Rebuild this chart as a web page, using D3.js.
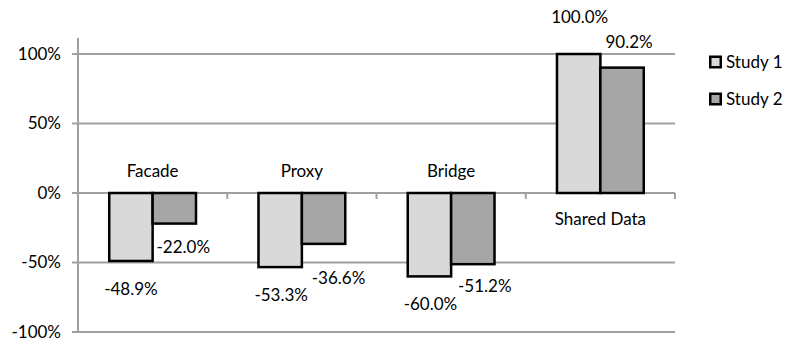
<!DOCTYPE html>
<html>
<head>
<meta charset="utf-8">
<script src="https://cdn.jsdelivr.net/npm/d3@7"></script>
<style>
  html, body { margin: 0; padding: 0; background: #fff; }
  svg { display: block; font-family: Lato, "Open Sans", sans-serif; }
</style>
</head>
<body>
<svg id="chart" width="788" height="344"></svg>
<script>
// Chart data
const categories = ["Facade", "Proxy", "Bridge", "Shared Data"];
const seriesNames = ["Study 1", "Study 2"];
const study1 = [-0.489, -0.533, -0.600, 1.000];
const study2 = [-0.220, -0.366, -0.512, 0.902];
const yTicks = [-1, -0.5, 0, 0.5, 1];

// Styling
const fills = ["#d9d9d9", "#a6a6a6"];
const gridColor = "#a0a0a0";
const fontSize = 17;

// Hand-placed nudges for the value labels [dx, dy], per series and category
const labelNudge = [
  [[0, 0], [1, 0], [1, 0], [1, -9]],
  [[9, -5], [15, 6], [12, -6], [7, 2]]
];

const svg = d3.select("#chart");
const plot = { left: 78, right: 675, top: 54, bottom: 332 };

const x0 = d3.scaleBand().domain(categories).range([plot.left, plot.right]).padding(0);
const x1 = d3.scaleBand().domain(seriesNames).range([0, x0.bandwidth()])
  .paddingInner(0).paddingOuter(0.72);
const y = d3.scaleLinear().domain([-1, 1]).range([plot.bottom, plot.top]);

const values = [study1, study2];
// Percent formats with a plain hyphen for negatives
const hyphen = f => v => f(v).replace("\u2212", "-");
const fmt = hyphen(d3.format(".1%"));
const tickFmt = hyphen(d3.format(".0%"));

// Horizontal gridlines with short ticks left of the axis
svg.append("g").selectAll("line").data(yTicks).join("line")
  .attr("x1", plot.left - 6).attr("x2", plot.right)
  .attr("y1", d => y(d)).attr("y2", d => y(d))
  .attr("stroke", gridColor).attr("stroke-width", 2);

// Value axis line
svg.append("line")
  .attr("x1", plot.left).attr("x2", plot.left)
  .attr("y1", 38).attr("y2", plot.bottom)
  .attr("stroke", gridColor).attr("stroke-width", 2);

// Category tick marks on the zero line
svg.append("g").selectAll("line").data(categories.slice(1).concat([null])).join("line")
  .attr("x1", d => d ? x0(d) : plot.right)
  .attr("x2", d => d ? x0(d) : plot.right)
  .attr("y1", y(0)).attr("y2", y(0) + 6)
  .attr("stroke", gridColor).attr("stroke-width", 2);

// Value axis tick labels
svg.append("g").selectAll("text").data(yTicks).join("text")
  .attr("x", 61).attr("y", d => y(d)).attr("dy", "0.35em")
  .attr("text-anchor", "end").attr("font-size", fontSize).attr("fill", "#000")
  .text(d => tickFmt(d));

// Bars
seriesNames.forEach((s, si) => {
  svg.append("g").selectAll("rect").data(categories).join("rect")
    .attr("x", d => x0(d) + x1(s))
    .attr("width", x1.bandwidth())
    .attr("y", (d, i) => y(Math.max(0, values[si][i])))
    .attr("height", (d, i) => Math.abs(y(values[si][i]) - y(0)))
    .attr("fill", fills[si]).attr("stroke", "#000").attr("stroke-width", 2.5);
});

// Category labels sit on the side of the zero line away from the bars
svg.append("g").selectAll("text").data(categories).join("text")
  .attr("x", d => x0(d) + x0.bandwidth() / 2)
  .attr("y", (d, i) => study1[i] < 0 ? y(0) - 21.5 : y(0) + 26)
  .attr("dy", "0.35em").attr("text-anchor", "middle")
  .attr("font-size", fontSize).attr("fill", "#000")
  .text(d => d);

// Value labels
seriesNames.forEach((s, si) => {
  svg.append("g").selectAll("text").data(categories).join("text")
    .attr("x", (d, i) => x0(d) + x1(s) + x1.bandwidth() / 2 + labelNudge[si][i][0])
    .attr("y", (d, i) => y(values[si][i]) + (values[si][i] < 0 ? 28 : -28) + labelNudge[si][i][1])
    .attr("dy", "0.35em").attr("text-anchor", "middle")
    .attr("font-size", fontSize).attr("fill", "#000")
    .text((d, i) => fmt(values[si][i]));
});

// Legend
const legend = svg.append("g").selectAll("g").data(seriesNames).join("g")
  .attr("transform", (d, i) => `translate(709, ${62 + i * 37})`);
legend.append("rect")
  .attr("x", 1.25).attr("y", -5.25).attr("width", 10.5).attr("height", 10.5)
  .attr("fill", (d, i) => fills[i]).attr("stroke", "#000").attr("stroke-width", 2.5);
legend.append("text")
  .attr("x", 17).attr("y", 0).attr("dy", "0.35em")
  .attr("font-size", fontSize).attr("fill", "#000")
  .text(d => d);
</script>
</body>
</html>
